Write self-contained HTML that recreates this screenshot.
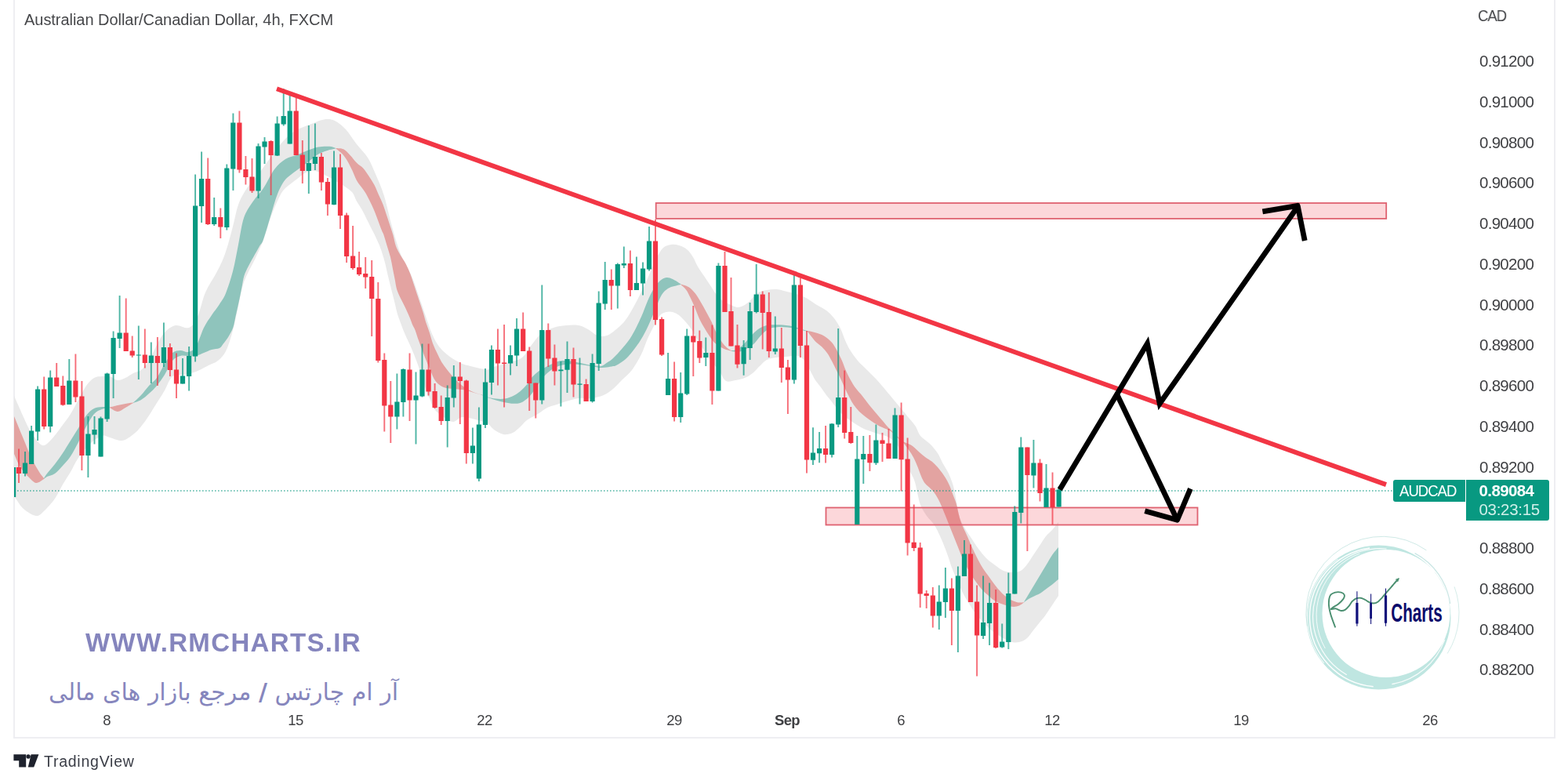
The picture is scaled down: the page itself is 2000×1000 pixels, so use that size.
<!DOCTYPE html><html><head><meta charset="utf-8"><title>AUDCAD chart</title><style>
html,body{margin:0;padding:0;background:#fff}
body{width:2000px;height:1000px;position:relative;overflow:hidden;font-family:"Liberation Sans",sans-serif;color:#404144}
.fr{position:absolute;background:#eeeef2}
.t{position:absolute;white-space:nowrap;line-height:1;will-change:transform}
.pl{left:1887px;font-size:20.5px;letter-spacing:-0.72px;color:#404144}
.dl{font-size:18.5px;letter-spacing:-0.6px;color:#404144;transform:translateX(-50%)}
</style></head><body>
<div class="fr" style="left:16.5px;top:0;width:2px;height:942px"></div>
<div class="fr" style="left:1981.6px;top:0;width:2.2px;height:942px"></div>
<div class="fr" style="left:16.5px;top:940px;width:1967.3px;height:2px"></div>
<svg width="2000" height="1000" viewBox="0 0 2000 1000" style="position:absolute;left:0;top:0">
<defs><clipPath id="cp"><rect x="18" y="0" width="1964" height="940"/></clipPath></defs>
<g clip-path="url(#cp)">
<path d="M17.6 504C19.7 508.7 26.3 524 30 532C33.7 540 36 546 40 552C44 558 49.7 566.7 54 568C58.3 569.3 61.7 564.3 66 560C70.3 555.7 76 547.3 80 542C84 536.7 86.7 533.3 90 528C93.3 522.7 96.7 516 100 510C103.3 504 106.7 496.7 110 492C113.3 487.3 116.7 484 120 482C123.3 480 126.7 480.3 130 480C133.3 479.7 136.7 479.2 140 480C143.3 480.8 146.7 484.7 150 485C153.3 485.3 156.7 483.5 160 482C163.3 480.5 166.7 477.7 170 476C173.3 474.3 176.7 474.7 180 472C183.3 469.3 186.7 465.3 190 460C193.3 454.7 196.7 446 200 440C203.3 434 206 428.2 210 424C214 419.8 218.8 416 224 415C229.2 414 236.3 419.8 241 418C245.7 416.2 248.5 411.5 252 404C255.5 396.5 258 382.3 262 373C266 363.7 271.8 356.2 276 348C280.2 339.8 283.5 333.8 287 324C290.5 314.2 294.2 299.5 297 289C299.8 278.5 301 269.2 304 261C307 252.8 310.3 247 315 240C319.7 233 326.2 226.7 332 219C337.8 211.3 344.7 201 350 194C355.3 187 359.3 181.7 364 177C368.7 172.3 372.8 169 378 166C383.2 163 389.2 161.2 395 159C400.8 156.8 407.7 153.3 413 152.5C418.3 151.7 422.3 151.9 427 154C431.7 156.1 436.3 160 441 165C445.7 170 450.3 178 455 184C459.7 190 465 194.7 469 201C473 207.3 475.5 213.8 479 222C482.5 230.2 486.5 238.8 490 250C493.5 261.2 496.5 276.7 500 289C503.5 301.3 506.8 313.5 511 324C515.2 334.5 521 342.7 525 352C529 361.3 531.5 370 535 380C538.5 390 543.2 404 546 412C548.8 420 549.7 423 552 428C554.3 433 557 438 560 442C563 446 566.7 449.2 570 452C573.3 454.8 576.5 456.9 580 459C583.5 461.1 587.3 463.2 591 464.6C594.7 466 598.2 466.5 602 467.4C605.8 468.3 610.7 469.5 614 470.2C617.3 470.9 619.3 472 622 471.6C624.7 471.2 625.3 469.6 630 468C634.7 466.4 644 464 650 462C656 460 661.3 459.7 666 456C670.7 452.3 674 445 678 440C682 435 685.3 429.7 690 426C694.7 422.3 700.7 419.8 706 418C711.3 416.2 716.7 415.5 722 415C727.3 414.5 733.3 414.2 738 415C742.7 415.8 746 417.8 750 420C754 422.2 758 426.7 762 428C766 429.3 770 429.3 774 428C778 426.7 782 423.3 786 420C790 416.7 794 413.3 798 408C802 402.7 806 395.3 810 388C814 380.7 818.7 371 822 364C825.3 357 827.3 352 830 346C832.7 340 835.3 333 838 328C840.7 323 843 318.7 846 316C849 313.3 852.7 312.5 856 312C859.3 311.5 862.7 312 866 313C869.3 314 873 315.5 876 318C879 320.5 881.7 324.3 884 328C886.3 331.7 887.7 336 890 340C892.3 344 895.3 348 898 352C900.7 356 903.3 360 906 364C908.7 368 911.3 372.7 914 376C916.7 379.3 919.3 382 922 384C924.7 386 926.7 386.7 930 388C933.3 389.3 938 392.3 942 392C946 391.7 950 389 954 386C958 383 962 376.7 966 374C970 371.3 974 370.8 978 370C982 369.2 986.3 368.8 990 369C993.7 369.2 994.3 369.5 1000 371C1005.7 372.5 1017 375 1024 378C1031 381 1037 386 1042 389C1047 392 1050.3 393.2 1054 396C1057.7 398.8 1061 402.2 1064 406C1067 409.8 1069.7 414.3 1072 419C1074.3 423.7 1076 429.5 1078 434C1080 438.5 1081.3 441.7 1084 446C1086.7 450.3 1090.3 455.7 1094 460C1097.7 464.3 1102 468 1106 472C1110 476 1114 479.7 1118 484C1122 488.3 1126.3 493.7 1130 498C1133.7 502.3 1136.7 506 1140 510C1143.3 514 1146.7 518 1150 522C1153.3 526 1157 530.3 1160 534C1163 537.7 1165.7 540.3 1168 544C1170.3 547.7 1171 552.3 1174 556C1177 559.7 1182.3 562.3 1186 566C1189.7 569.7 1193.3 574 1196 578C1198.7 582 1199.7 585.7 1202 590C1204.3 594.3 1207.7 599 1210 604C1212.3 609 1214.3 614 1216 620C1217.7 626 1218.7 633.3 1220 640C1221.3 646.7 1222 654 1224 660C1226 666 1229.3 671.3 1232 676C1234.7 680.7 1237.3 684 1240 688C1242.7 692 1245 696 1248 700C1251 704 1254.7 708.7 1258 712C1261.3 715.3 1264.3 717.3 1268 720C1271.7 722.7 1276 726.3 1280 728C1284 729.7 1288.3 730 1292 730C1295.7 730 1299 729.7 1302 728C1305 726.3 1307.3 723.3 1310 720C1312.7 716.7 1315.3 712 1318 708C1320.7 704 1323.3 700 1326 696C1328.7 692 1331.3 687.3 1334 684C1336.7 680.7 1339.3 679 1342 676C1344.7 673 1348.7 667.7 1350 666L1350 760C1348.7 762 1344.7 768 1342 772C1339.3 776 1336.7 780.3 1334 784C1331.3 787.7 1328.7 790.7 1326 794C1323.3 797.3 1320.7 800.7 1318 804C1315.3 807.3 1313 811.5 1310 814C1307 816.5 1303.7 818.3 1300 819C1296.3 819.7 1293 819.8 1288 818C1283 816.2 1275.3 811.7 1270 808C1264.7 804.3 1260.3 800.3 1256 796C1251.7 791.7 1247.3 786.3 1244 782C1240.7 777.7 1238.7 774.3 1236 770C1233.3 765.7 1230.7 761.3 1228 756C1225.3 750.7 1222.3 743.3 1220 738C1217.7 732.7 1216 729.3 1214 724C1212 718.7 1210.3 712.3 1208 706C1205.7 699.7 1202.7 692 1200 686C1197.3 680 1195 674.7 1192 670C1189 665.3 1185 662.3 1182 658C1179 653.7 1176 649 1174 644C1172 639 1171.3 633.3 1170 628C1168.7 622.7 1168 617.3 1166 612C1164 606.7 1161.3 603 1158 596C1154.7 589 1150 576.3 1146 570C1142 563.7 1138 560.7 1134 558C1130 555.3 1126 555.3 1122 554C1118 552.7 1113.7 551.3 1110 550C1106.3 548.7 1103.3 547.7 1100 546C1096.7 544.3 1094 542.7 1090 540C1086 537.3 1080 533.5 1076 530C1072 526.5 1068.5 521.9 1066 519C1063.5 516.1 1063 514.9 1061 512.4C1059 509.9 1056.3 507.1 1054 504C1051.7 500.9 1049.3 497.2 1047 494C1044.7 490.8 1042.2 488.3 1040 485C1037.8 481.7 1036.3 478.2 1034 474C1031.7 469.8 1028.7 463.3 1026 460C1023.3 456.7 1022 454.8 1018 454C1014 453.2 1006.7 454.7 1002 455C997.3 455.3 994 455.3 990 456C986 456.7 981.3 457.3 978 459C974.7 460.7 973 463.2 970 466C967 468.8 963.3 473.3 960 476C956.7 478.7 953.7 480.5 950 482C946.3 483.5 942 484.3 938 485C934 485.7 929.3 487.8 926 486C922.7 484.2 920.7 477.7 918 474C915.3 470.3 913 468 910 464C907 460 903.3 455 900 450C896.7 445 893 439 890 434C887 429 884.7 424 882 420C879.3 416 876.7 413 874 410C871.3 407 868.7 404 866 402C863.3 400 860.7 398.7 858 398C855.3 397.3 852.7 397.3 850 398C847.3 398.7 844.7 399 842 402C839.3 405 836.7 411 834 416C831.3 421 828.7 426 826 432C823.3 438 821.3 445.3 818 452C814.7 458.7 810 466.7 806 472C802 477.3 798 480 794 484C790 488 786 492.7 782 496C778 499.3 774.7 502 770 504C765.3 506 759.3 507.3 754 508C748.7 508.7 743.3 507.3 738 508C732.7 508.7 726.7 510.7 722 512C717.3 513.3 714 514.7 710 516C706 517.3 702 518 698 520C694 522 690.3 525.3 686 528C681.7 530.7 675.7 533.3 672 536C668.3 538.7 667 541.3 664 544C661 546.7 657.7 550.3 654 552C650.3 553.7 646 554.7 642 554C638 553.3 633.3 550.3 630 548C626.7 545.7 625.3 542 622 540C618.7 538 615.3 537.3 610 536C604.7 534.7 595.3 531.7 590 532C584.7 532.3 582 538 578 538C574 538 570 534.7 566 532C562 529.3 557 526 554 522C551 518 549.5 511.2 548 508C546.5 504.8 546.3 506.7 545 503C543.7 499.3 541.8 491.8 540 486C538.2 480.2 536 473.7 534 468C532 462.3 530 457 528 452C526 447 524 442.5 522 438C520 433.5 517.8 429.3 516 425C514.2 420.7 512.5 416.2 511 412C509.5 407.8 508 404.2 506.8 400C505.6 395.8 504.8 391.8 503.6 386.8C502.4 381.8 500.8 375.6 499.4 370C498 364.4 496.6 359 495.2 353.2C493.8 347.4 492.6 341.1 491 335C489.4 328.9 487.4 322.4 485.4 316.8C483.4 311.2 480.8 306 478.8 301.6C476.8 297.2 475.1 294.1 473.2 290.4C471.3 286.7 469.5 282.9 467.6 279.2C465.7 275.5 464.1 271.7 462 268C459.9 264.3 457.1 260.5 455 256.8C452.9 253.1 451.9 248.7 449.4 245.6C446.9 242.5 443.2 240.3 440 238C436.8 235.7 433.3 234 430 232C426.7 230 424.7 228.3 420 226C415.3 223.7 407 219 402 218C397 217 394 218.2 390 220C386 221.8 382.3 225.7 378 229C373.7 232.3 367.5 236.5 364 240C360.5 243.5 360 244.2 357 250C354 255.8 349.5 265.7 346 275C342.5 284.3 339.5 296.7 336 306C332.5 315.3 329.2 322 325 331C320.8 340 314.7 349.3 311 360C307.3 370.7 305.5 384.2 303 395C300.5 405.8 298.5 416.2 296 425C293.5 433.8 291 442.2 288 448C285 453.8 281.7 457 278 460C274.3 463 270.7 463.7 266 466C261.3 468.3 255.2 472 250 474C244.8 476 240 477 235 478C230 479 224.2 476.7 220 480C215.8 483.3 213.3 492.3 210 498C206.7 503.7 203.3 508.7 200 514C196.7 519.3 193.3 525 190 530C186.7 535 183.3 540 180 544C176.7 548 174 551 170 554C166 557 161 561.3 156 562C151 562.7 144.3 559 140 558C135.7 557 134.2 554.7 130 556C125.8 557.3 120 561.3 115 566C110 570.7 104.2 578 100 584C95.8 590 93.3 596.3 90 602C86.7 607.7 83.3 612.3 80 618C76.7 623.7 74 630.3 70 636C66 641.7 60 648.3 56 652C52 655.7 50.3 658.5 46 658C41.7 657.5 34.3 652.7 30 649C25.7 645.3 22.1 638.5 20 636C17.9 633.5 18 634.3 17.6 634Z" fill="#e9e9e9"/>
<path d="M17.6 530C19.7 535 26.3 551 30 560C33.7 569 36.7 577 40 584C43.3 591 47.3 597.7 50 602C52.7 606.3 55 608.7 56 610L56 611C54.3 611.8 49.3 616.5 46 616C42.7 615.5 39.3 611.3 36 608C32.7 604.7 29.1 601 26 596C22.9 591 19 581 17.6 578Z" fill="#e3a3a1"/>
<path d="M56 610C56.7 609 57.7 607 60 604C62.3 601 66.7 596.3 70 592C73.3 587.7 76.7 583 80 578C83.3 573 86.7 567.3 90 562C93.3 556.7 96.7 551.3 100 546C103.3 540.7 106.7 534.2 110 530C113.3 525.8 116.7 522.8 120 521C123.3 519.2 126.7 519.2 130 519C133.3 518.8 138.3 519.4 140 519.5L140 520C138.3 520.3 133.3 520.7 130 522C126.7 523.3 123.3 524.3 120 528C116.7 531.7 113.3 538 110 544C106.7 550 103.3 557.7 100 564C96.7 570.3 93.3 577 90 582C86.7 587 83.3 590.3 80 594C76.7 597.7 73.3 601.7 70 604C66.7 606.3 62.3 606.8 60 608C57.7 609.2 56.7 610.5 56 611Z" fill="#8fc4bc"/>
<path d="M140 519.5C141.7 519.1 146.7 517.8 150 517C153.3 516.2 156.7 515.6 160 515C163.3 514.4 168.3 513.8 170 513.6L170 514C168.3 515 163.3 518.2 160 520C156.7 521.8 153.3 525 150 525C146.7 525 141.7 520.8 140 520Z" fill="#e3a3a1"/>
<path d="M170 513.6C171.7 512 176.7 507.6 180 504C183.3 500.4 186.7 495.7 190 492C193.3 488.3 196.7 486.7 200 482C203.3 477.3 206.7 469.3 210 464C213.3 458.7 216.7 452.8 220 450C223.3 447.2 226.7 447.2 230 447C233.3 446.8 236.7 449.8 240 449C243.3 448.2 246.7 447.2 250 442C253.3 436.8 256.7 424.7 260 418C263.3 411.3 266.7 407 270 402C273.3 397 277 392.7 280 388C283 383.3 285.2 381 288 374C290.8 367 294.3 356.3 297 346C299.7 335.7 301.7 323.3 304 312C306.3 300.7 308 287 311 278C314 269 317.8 264.3 322 258C326.2 251.7 331.3 247 336 240C340.7 233 345.3 222.2 350 216C354.7 209.8 359.3 206 364 203C368.7 200 373.3 199.8 378 198C382.7 196.2 387.3 193.8 392 192C396.7 190.2 401.3 188.4 406 187.5C410.7 186.6 416.3 186.6 420 186.8C423.7 187 427 188.6 428.4 188.9L428.4 189.5C427.7 189.6 426.5 189.8 424.4 190.3C422.3 190.8 419 191.4 416 192.4C413 193.4 409.7 194.5 406.2 196.6C402.7 198.7 398.7 202.2 395 205C391.3 207.8 387.3 210.8 383.8 213.4C380.3 216 377.3 217.8 374 220.4C370.7 223 367 225.5 364.2 228.8C361.4 232.1 359.3 235.8 357.2 240C355.1 244.2 353.2 249.3 351.6 254C350 258.7 348.8 263.3 347.4 268C346 272.7 344.6 277.3 343.2 282C341.8 286.7 340.4 291.7 339 296C337.6 300.3 336.3 305 335 308C333.7 311 332.8 310.9 331 314C329.2 317.1 326.3 322.4 324 326.6C321.7 330.8 319.1 335 317 339.2C314.9 343.4 312.8 347.4 311.4 351.8C310 356.2 309.5 361.1 308.6 365.8C307.7 370.5 306.7 375.4 305.8 379.8C304.9 384.2 303.9 388.2 303 392.4C302.1 396.6 301.1 400.8 300.2 405C299.3 409.2 298.8 413.6 297.4 417.6C296 421.6 293.9 425.3 291.8 428.8C289.7 432.3 286.8 436.1 284.8 438.6C282.8 441.1 282.5 442.8 280 444C277.5 445.2 273.3 445 270 446C266.7 447 263.3 448.7 260 450C256.7 451.3 253.3 453.3 250 454C246.7 454.7 243.3 454 240 454C236.7 454 233.3 453 230 454C226.7 455 223.3 456 220 460C216.7 464 213.3 472.7 210 478C206.7 483.3 203.3 488 200 492C196.7 496 193.3 499 190 502C186.7 505 183.3 508 180 510C176.7 512 171.7 513.3 170 514Z" fill="#8fc4bc"/>
<path d="M428.4 188.9C430 189.1 435.2 188.8 438.2 190.3C441.2 191.8 443.8 195.1 446.6 198C449.4 200.9 452.2 205 455 207.8C457.8 210.6 460.8 212 463.4 214.8C466 217.6 468.1 221.1 470.4 224.6C472.7 228.1 475.3 231.8 477.4 235.8C479.5 239.8 481.1 244.2 483 248.4C484.9 252.6 487 256.8 488.6 261C490.2 265.2 491.4 269.4 492.8 273.6C494.2 277.8 495.6 281.9 497 286.2C498.4 290.5 500 294.9 501.3 299.5C502.6 304.1 503.4 309.7 505 314C506.6 318.3 508.5 321.5 510.6 325.2C512.7 328.9 515.5 332.4 517.6 336.4C519.7 340.4 521.6 344.8 523.2 349C524.8 353.2 526 357.4 527.4 361.6C528.8 365.8 530.2 370 531.6 374.2C533 378.4 534.4 382.6 535.8 386.8C537.2 391 538.8 395.4 540 399.4C541.2 403.4 541.9 406.9 543.2 411C544.5 415.1 546.3 419.5 547.8 424C549.3 428.5 550.4 433.6 552 438C553.6 442.4 555.7 446.6 557.6 450.6C559.5 454.6 561.1 458.3 563.2 461.8C565.3 465.3 567.9 468.6 570.2 471.6C572.5 474.6 574.7 477.3 577.2 480C579.7 482.7 582.2 485.5 585 488C587.8 490.5 591.1 493.1 594 495C596.9 496.9 599.6 498.2 602.4 499.4C605.2 500.6 608.9 501.8 610.8 502.4C612.7 503 613.5 502.9 614 503L614 503.4C612.5 503 608.3 501.9 605 501C601.7 500.1 597.5 498.6 594 497.8C590.5 497.1 587.5 496.9 584 496.5C580.5 496.1 576 496 573 495.6C570 495.2 568.3 495 566 494C563.7 493 561.1 491.7 559 489.8C556.9 487.9 555.2 486.1 553.4 482.8C551.6 479.5 549.9 474.4 548 470C546.1 465.6 543.9 460.4 542.2 456.2C540.5 452 539.4 448.7 538 445C536.6 441.3 535.2 437.8 533.8 433.8C532.4 429.8 530.8 424.3 529.6 421.2C528.4 418.1 527.6 417.5 526.5 415C525.4 412.5 524.7 409.9 523.2 406.4C521.7 402.9 519.5 397.8 517.6 393.8C515.7 389.8 513.9 386.6 512 382.6C510.1 378.6 507.8 374.4 506.4 370C505 365.6 504.5 360.7 503.6 356C502.7 351.3 501.7 346.7 500.8 342C499.9 337.3 499.2 332.7 498 328C496.8 323.3 495.2 318.7 493.8 314C492.4 309.3 490.7 303.2 489.6 300C488.5 296.8 488.3 297.4 487.2 294.6C486.1 291.8 484.4 287.1 483 283.4C481.6 279.7 480.4 276.2 478.8 272.2C477.2 268.2 475.1 263.6 473.2 259.6C471.3 255.6 469.5 251.7 467.6 248.4C465.7 245.1 464.1 243 462 240C459.9 237 457.1 233.9 455 230.2C452.9 226.5 451.3 221.6 449.4 217.6C447.5 213.6 445.9 209.9 443.8 206.4C441.7 202.9 439.4 199.4 436.8 196.6C434.2 193.8 429.8 190.7 428.4 189.5Z" fill="#e3a3a1"/>
<path d="M614 503C615.3 503.6 618.9 505.5 622 506.4C625.1 507.3 629 508.2 632.6 508.6C636.2 509 640.1 509.2 643.8 508.6C647.5 508 651.7 506.4 655 504.8C658.3 503.2 660.6 501.5 663.4 499.2C666.2 496.9 669.2 493.8 671.8 490.8C674.4 487.8 676.3 483.9 678.8 481C681.3 478.1 684.2 475.6 687 473.5C689.8 471.4 692.8 469.9 695.6 468.4C698.4 466.8 701.2 465.5 704 464.2C706.8 462.9 709.6 461.4 712.4 460.7C715.2 460 718 460 720.8 460C723.6 460 726.2 460.2 729.2 460.7C732.2 461.2 735.7 462.1 739 462.8C742.3 463.5 745.6 464.3 748.8 464.9C752 465.5 755 465.8 758 466.2C761 466.6 764.3 467.6 767 467C769.7 466.4 771.5 464.5 774 462.8C776.5 461.1 778.7 460.1 782 457C785.3 453.9 790 448.8 794 444C798 439.2 802 434.7 806 428C810 421.3 814.7 411.3 818 404C821.3 396.7 823.3 390 826 384C828.7 378 831.3 372.3 834 368C836.7 363.7 839.3 360.3 842 358C844.7 355.7 847.3 354.3 850 354C852.7 353.7 854.9 354.6 858 356C861.1 357.4 866.7 361.3 868.4 362.4L868.4 363C867 363.3 862.7 364.2 860 365C857.3 365.8 854.7 366.2 852 368C849.3 369.8 846.7 371.7 844 376C841.3 380.3 838.7 387.8 836 394C833.3 400.2 830.7 407.2 828 413C825.3 418.8 823 423.8 820 429C817 434.2 813.7 439.2 810 444C806.3 448.8 802 454.3 798 458C794 461.7 788.7 464.5 786 466C783.3 467.5 784 466.6 782 467C780 467.4 776.5 468.3 774 468.6C771.5 468.9 769.7 469.1 767 469C764.3 468.9 761 468.2 758 467.8C755 467.4 752 466.8 748.8 466.3C745.6 465.8 742.3 465.4 739 465C735.7 464.6 732.2 464.2 729.2 464.2C726.2 464.2 723.6 464.5 720.8 465C718 465.5 715.2 466 712.4 467C709.6 468 706.8 469.3 704 471.2C701.2 473.1 698.3 475.4 695.6 478.2C692.9 481 690.6 484.5 688 488C685.4 491.5 682.7 496.1 680.2 499.4C677.7 502.7 675.8 505.5 673.2 507.8C670.6 510.1 667.8 512.2 664.8 513.4C661.8 514.6 658.5 514.8 655 514.8C651.5 514.8 647.5 513.9 643.8 513.2C640.1 512.5 636.2 511.4 632.6 510.4C629 509.4 625.1 508.2 622 507C618.9 505.8 615.3 504 614 503.4Z" fill="#8fc4bc"/>
<path d="M868.4 362.4C870 363 875.2 364.1 878.2 366C881.2 367.9 884 370.8 886.6 374C889.2 377.2 891.3 381.1 893.6 385C895.9 388.9 898.3 393.2 900.6 397.5C902.9 401.8 905.7 406.7 907.6 410.5C909.5 414.3 910.2 417.2 911.8 420.5C913.4 423.8 915.4 427.2 917 430C918.6 432.8 919.9 435.3 921.6 437.5C923.3 439.7 925.3 441.8 927.2 443.4C929.1 445 931.9 446.5 932.8 447.1L932.8 447.8C932.1 447.6 930.5 447.2 928.6 446.6C926.7 446 924.4 445.5 921.6 444C918.8 442.5 914.4 439.8 911.8 437.5C909.2 435.2 908.3 433.5 906.2 430.5C904.1 427.5 901.5 423.4 899.2 419.5C896.9 415.6 894.3 411.4 892.2 407C890.1 402.6 888.5 397.4 886.6 393C884.7 388.6 882.9 384.3 881 380.5C879.1 376.7 877.5 372.9 875.4 370C873.3 367.1 869.6 364.2 868.4 363Z" fill="#e3a3a1"/>
<path d="M932.8 447.1C933.7 447 936.1 447.2 938.4 446.2C940.7 445.1 944 443.2 946.8 440.8C949.6 438.4 952.4 434.8 955 432C957.6 429.2 959.8 426.3 962.2 424C964.6 421.7 966.6 419.9 969.2 418.4C971.8 416.9 974.8 415.6 977.6 414.9C980.4 414.2 983.2 414.3 986 414.2C988.8 414.1 991.6 414.1 994.4 414.2C997.2 414.3 1000 414.5 1002.8 414.9C1005.6 415.2 1008.6 415.7 1011.2 416.3C1013.8 416.9 1015.1 417.4 1018.2 418.4C1021.3 419.3 1028 421.4 1030 422L1030 423C1028 422.5 1021.8 420.7 1018.2 419.8C1014.6 418.9 1011.4 418.3 1008.4 417.9C1005.4 417.5 1002.8 417.3 1000 417.2C997.2 417.1 994.4 417 991.6 417.2C988.8 417.4 985.8 417.7 983.2 418.6C980.6 419.5 978.5 420.8 976.2 422.6C973.9 424.4 971.5 427 969.2 429.6C966.9 432.2 964.6 435.8 962.2 438C959.8 440.2 957.6 441.4 955 443C952.4 444.6 949.6 446.9 946.8 447.8C944 448.7 940.7 448.6 938.4 448.6C936.1 448.6 933.7 447.9 932.8 447.8Z" fill="#8fc4bc"/>
<path d="M1030 422C1031.7 422.4 1036.5 423.1 1040 424.2C1043.5 425.3 1047.5 426.3 1051 428.4C1054.5 430.5 1058.2 433.5 1061 436.8C1063.8 440.1 1065.9 444.3 1068 448C1070.1 451.7 1071.7 455 1073.6 459.2C1075.5 463.4 1077.3 469 1079.2 473.2C1081.1 477.4 1082.7 480.7 1084.8 484.4C1086.9 488.1 1089.2 492.1 1091.8 495.6C1094.4 499.1 1097.4 501.9 1100.2 505.4C1103 508.9 1105.8 513.1 1108.6 516.6C1111.4 520.1 1114.2 523.1 1117 526.4C1119.8 529.7 1122.8 533.2 1125.4 536.2C1128 539.2 1130.3 542.3 1132.4 544.6C1134.5 546.9 1135.9 547.9 1138 550C1140.1 552.1 1142.6 554.7 1145 557C1147.4 559.3 1149.5 561.8 1152.4 563.6C1155.3 565.4 1158.9 565.7 1162.2 567.8C1165.5 569.9 1169 573.6 1172 576.2C1175 578.8 1177.6 581.1 1180.4 583.2C1183.2 585.3 1186.2 586.7 1188.8 588.8C1191.4 590.9 1193.7 593.5 1195.8 595.8C1197.9 598.1 1199.5 600.2 1201.4 602.8C1203.3 605.4 1205.4 608.4 1207 611.2C1208.6 614 1209.8 616.3 1211.2 619.6C1212.6 622.9 1214 627.1 1215.4 630.8C1216.8 634.5 1218.4 638 1219.6 642C1220.8 646 1221.6 651 1222.6 655C1223.6 659 1224.3 662.2 1225.8 666.2C1227.3 670.2 1229.5 674.6 1231.4 678.8C1233.3 683 1235.1 687.2 1237 691.4C1238.9 695.6 1240.7 700 1242.6 704C1244.5 708 1246.3 711.7 1248.2 715.2C1250.1 718.7 1251.7 721.7 1253.8 725C1255.9 728.3 1258.5 731.5 1260.8 734.8C1263.1 738.1 1265.5 741.6 1267.8 744.6C1270.1 747.6 1272.5 750.4 1274.8 753C1277.1 755.6 1279.2 757.9 1281.8 760C1284.4 762.1 1287.4 764.2 1290.2 765.6C1293 767 1296 768 1298.6 768.4C1301.2 768.8 1304.8 768.2 1306 768.2L1306 768.6C1305 769.3 1302.2 771.7 1300 772.6C1297.8 773.5 1295.6 774 1293 774C1290.4 774 1287.4 773.3 1284.6 772.6C1281.8 771.9 1279 771 1276.2 769.8C1273.4 768.6 1270.6 767.5 1267.8 765.6C1265 763.7 1262.2 761.2 1259.4 758.6C1256.6 756 1253.8 753.5 1251 750.2C1248.2 746.9 1245.4 743.2 1242.6 739C1239.8 734.8 1236.6 729.7 1234 725C1231.4 720.3 1229.3 715.7 1227.2 711C1225.1 706.3 1223.5 701.7 1221.6 697C1219.7 692.3 1217.9 687.7 1216 683C1214.1 678.3 1212.3 673.7 1210.4 669C1208.5 664.3 1206.5 659.3 1204.8 655C1203.1 650.7 1201.5 646.7 1200 643.4C1198.5 640.1 1197.4 637.8 1195.8 635C1194.2 632.2 1192.1 628.9 1190.2 626.6C1188.3 624.3 1186.5 622.9 1184.6 621C1182.7 619.1 1180.6 617.7 1179 615.4C1177.4 613.1 1176.2 610.3 1174.8 607C1173.4 603.7 1172 599.3 1170.6 595.8C1169.2 592.3 1168 589.3 1166.4 586C1164.8 582.7 1163.1 579.7 1160.8 576.2C1158.5 572.7 1155 568 1152.4 565C1149.8 562 1147.4 560.8 1145 558.5C1142.6 556.2 1140.1 553.2 1138 551.5C1135.9 549.8 1134.7 549.2 1132.4 548.1C1130.1 547 1127 546.1 1124 544.6C1121 543.1 1117.5 541.1 1114.2 539C1110.9 536.9 1107.4 534.3 1104.4 532C1101.4 529.7 1098.6 527.6 1096 525C1093.4 522.4 1091.1 519.6 1089 516.6C1086.9 513.6 1085.3 510.3 1083.4 506.8C1081.5 503.3 1079.7 499.6 1077.8 495.6C1075.9 491.6 1074.1 487 1072.2 483C1070.3 479 1068.5 475.5 1066.6 471.8C1064.7 468.1 1062.9 464.1 1061 460.6C1059.1 457.1 1057.5 453.8 1055.4 450.8C1053.3 447.8 1051 445 1048.4 442.4C1045.8 439.8 1042.4 437.8 1040 435.4C1037.6 433 1035.7 430.1 1034 428C1032.3 425.9 1030.7 423.8 1030 423Z" fill="#e3a3a1"/>
<path d="M1306 768C1307 766.3 1310 761.3 1312 758C1314 754.7 1316 751.3 1318 748C1320 744.7 1322 741.3 1324 738C1326 734.7 1328 731.3 1330 728C1332 724.7 1334 721.3 1336 718C1338 714.7 1339.7 711.3 1342 708C1344.3 704.7 1348.7 699.7 1350 698L1350 739C1349 739.8 1346.3 742.2 1344 744C1341.7 745.8 1338.7 748 1336 750C1333.3 752 1330.7 754.3 1328 756C1325.3 757.7 1322.7 758.7 1320 760C1317.3 761.3 1314.3 762.6 1312 764C1309.7 765.4 1307 767.7 1306 768.4Z" fill="#8fc4bc"/>
<line x1="18" y1="626" x2="1777" y2="626" stroke="#089981" stroke-width="1.4" stroke-dasharray="1.6 2.4" opacity="0.7"/>
<rect x="836.7" y="259" width="931.5" height="19.9" fill="#f23645" fill-opacity="0.2" stroke="#df6270" stroke-width="1.8"/>
<rect x="1053.5" y="647.5" width="474" height="22" fill="#f23645" fill-opacity="0.2" stroke="#df6270" stroke-width="1.8"/>
<path d="M32 576V607.6M40.1 543V592M48.1 492.4V562M64.2 472.6V551.6M88.3 458V516M112.4 531V609M120.5 531V566.4M128.5 531.4V582.4M136.6 475.4V538M144.6 422.4V508M152.6 377V444M176.8 415.6V484M192.8 436.6V489M208.9 411.6V468M233 457V489.6M241.1 442V498.6M249.1 222.6V461.4M257.1 193.4V284M273.2 252V288M289.3 209.6V293.6M297.4 144.4V243M329.5 183V253M337.5 175V209M353.6 148.6V199M361.7 113V160.6M369.7 121V183.6M393.8 160V247M401.9 157.4V217M426 192.4V261.6M506.4 476.6V547.6M514.4 470V531.6M530.5 474.4V566.4M538.5 438.6V506.4M570.7 491.4V570.4M578.8 466V519.4M602.9 545.6V591.6M610.9 519.4V614M619 470V546M627 440.6V503.6M651.1 440.6V478.4M659.1 406V467M691.3 363.6V515.6M715.4 461V518.4M723.5 435.6V501M739.5 456.6V515.6M755.6 451.4V513.4M763.7 371.6V473M771.7 334V395M787.8 335.6V393.6M795.8 314.4V342M811.9 327.6V370M820 334.4V376.6M828 289V345.6M852.1 450V504M868.2 475V539M876.2 419.6V504M900.3 430.4V467M916.4 335.6V498.6M948.6 434V478.8M956.6 386V459M964.7 337V399.6M988.8 403.6V452M1012.9 348V489.6M1037 545.3V593M1045.1 551V590.2M1061.1 540V583.6M1069.2 419V545M1093.3 556V669M1101.3 556V617M1117.4 541.6V593M1141.5 520.4V585M1197.8 746.4V803M1205.9 724V788M1221.9 722.4V832M1230 689V735M1254.1 734.4V815M1262.1 743.6V823M1278.2 795.6V826.6M1286.3 730.4V828M1294.3 645.6V757.6M1302.3 557.6V667.6M1318.4 561V622.4M1334.5 592V647M1350.6 620V646.5" stroke="#089981" stroke-width="1.9" stroke-opacity="0.72" fill="none"/>
<path d="M24 572.4V616M56.2 480.6V547.6M72.2 463V493M80.3 479.4V517.4M96.4 451.4V513M104.4 486V600M160.7 380.6V448M168.7 428.6V456M184.8 419.6V469.6M200.9 430V492M216.9 438V480M225 450.6V508M265.2 201.6V287M281.3 265.6V304M305.4 141.4V220.6M313.4 199V235.6M321.5 202V246M345.6 179V249M377.8 125V198M385.8 179V234M409.9 195V243M417.9 227V275M434 196.4V292M442.1 271.6V335M450.1 288V344M458.1 321V352M466.2 328V368M474.2 332V429M482.3 360V462.4M490.3 450.4V550.4M498.3 486V565M522.5 450.4V537M546.6 438.6V504.4M554.6 489V521M562.7 504.6V542M586.8 462V541M594.8 484.6V591.6M635 419.4V491.6M643.1 414V519.4M667.2 398.4V448M675.2 442.4V524M683.3 488.4V533.4M699.3 412.4V468M707.4 439.4V491.6M731.5 443.6V506.4M747.6 483.6V512M779.8 343.6V395M803.9 319.6V378M836 280V414.6M844.1 404.4V454M860.1 461.6V537.6M884.3 390V480M892.3 421.6V463M908.4 414.4V516M924.5 321V398M932.5 354V441.6M940.5 414V469.4M972.7 371.4V445.6M980.8 373V456M996.8 418V488M1004.9 459V528M1020.9 354.4V456M1029 422V603.6M1053.1 543V590.4M1077.2 472.4V559.6M1085.3 519V566M1109.4 555V601M1125.5 552V589M1133.5 547V585M1149.6 513.6V626.4M1157.6 558.6V708.4M1165.7 643.6V703M1173.7 692V775M1181.7 753V776M1189.8 749V800.4M1213.9 737.4V823M1238 694.4V768M1246.1 746.4V862.4M1270.2 752V827M1310.4 570.4V703M1326.5 585.6V639.4M1342.5 602.6V669" stroke="#f23645" stroke-width="1.9" stroke-opacity="0.72" fill="none"/>
<path d="M28.9 590.6h6.2v13.4h-6.2zM37 549.4h6.2v42.6h-6.2zM45 496.4h6.2v54h-6.2zM61.1 481.6h6.2v62.4h-6.2zM85.2 485.6h6.2v30.4h-6.2zM109.3 553.4h6.2v27.6h-6.2zM117.4 548h6.2v6.6h-6.2zM125.4 533.4h6.2v49h-6.2zM133.5 476.4h6.2v58.2h-6.2zM141.5 431h6.2v46h-6.2zM149.5 424.4h6.2v7.6h-6.2zM173.7 452.4h6.2v1.2h-6.2zM189.7 453.6h6.2v9.4h-6.2zM205.8 443h6.2v20h-6.2zM229.9 479.4h6.2v10.2h-6.2zM238 454h6.2v26h-6.2zM246 262.4h6.2v192.2h-6.2zM254 228h6.2v35h-6.2zM270.1 277h6.2v9h-6.2zM286.2 214.6h6.2v75.4h-6.2zM294.2 156.4h6.2v59.2h-6.2zM326.4 186.6h6.2v57h-6.2zM334.4 180.4h6.2v7h-6.2zM350.5 157.6h6.2v40.8h-6.2zM358.6 148h6.2v10.6h-6.2zM366.6 141.6h6.2v42h-6.2zM390.7 208h6.2v10h-6.2zM398.8 200h6.2v9h-6.2zM422.9 213.4h6.2v47.6h-6.2zM503.3 512.4h6.2v19.2h-6.2zM511.3 471h6.2v42h-6.2zM527.4 504.6h6.2v5.8h-6.2zM535.4 471.4h6.2v34.2h-6.2zM567.6 507h6.2v30h-6.2zM575.6 480.4h6.2v27.2h-6.2zM599.8 568.4h6.2v9.6h-6.2zM607.8 541.6h6.2v68.8h-6.2zM615.9 487.4h6.2v54.6h-6.2zM623.9 446h6.2v42h-6.2zM648 453h6.2v10.6h-6.2zM656 419.4h6.2v34.2h-6.2zM688.2 421h6.2v89.4h-6.2zM712.3 471.6h6.2v1.6h-6.2zM720.4 458h6.2v13.8h-6.2zM736.4 489.6h6.2v1.2h-6.2zM752.5 463h6.2v49h-6.2zM760.6 386.4h6.2v77.6h-6.2zM768.6 357h6.2v30.4h-6.2zM784.7 337h6.2v27.6h-6.2zM792.7 336h6.2v2.4h-6.2zM808.8 361h6.2v9h-6.2zM816.9 342.4h6.2v19.2h-6.2zM824.9 307.6h6.2v36h-6.2zM849 483h6.2v21h-6.2zM865.1 501.6h6.2v30.4h-6.2zM873.1 428.4h6.2v74h-6.2zM897.2 450h6.2v6h-6.2zM913.3 339h6.2v159.6h-6.2zM945.5 443h6.2v21.2h-6.2zM953.5 397h6.2v47h-6.2zM961.6 375.6h6.2v22.4h-6.2zM985.7 444.6h6.2v3.8h-6.2zM1009.8 363.6h6.2v121h-6.2zM1033.9 577.6h6.2v9.2h-6.2zM1042 572h6.2v6.2h-6.2zM1058 540.4h6.2v39.6h-6.2zM1066.1 507h6.2v34.4h-6.2zM1090.2 585.6h6.2v83.4h-6.2zM1098.2 579h6.2v7h-6.2zM1114.3 561.5h6.2v28.9h-6.2zM1138.5 529.6h6.2v55.4h-6.2zM1194.7 767.6h6.2v18h-6.2zM1202.8 750.4h6.2v17.6h-6.2zM1218.8 734.4h6.2v44.6h-6.2zM1226.9 706.4h6.2v28.6h-6.2zM1251 794h6.2v17h-6.2zM1259 769h6.2v26h-6.2zM1275.1 818.4h6.2v7.2h-6.2zM1283.2 757h6.2v62h-6.2zM1291.2 653h6.2v104.6h-6.2zM1299.2 570.4h6.2v83.6h-6.2zM1315.3 590.6h6.2v15.8h-6.2zM1331.4 622.4h6.2v24.6h-6.2zM1347.5 624.5h6.2v22h-6.2zM18 596h2.2v38h-2.2z" fill="#089981"/>
<path d="M20.9 596h6.2v8h-6.2zM53.1 496.6h6.2v47.4h-6.2zM69.1 481.6h6.2v11.4h-6.2zM77.2 492h6.2v24.4h-6.2zM93.3 485.6h6.2v21h-6.2zM101.3 505.6h6.2v75.4h-6.2zM157.6 424.4h6.2v23.6h-6.2zM165.6 447.4h6.2v6.2h-6.2zM181.7 452.6h6.2v10.4h-6.2zM197.8 454h6.2v9h-6.2zM213.8 443h6.2v29h-6.2zM221.9 471.4h6.2v18.2h-6.2zM262.1 228h6.2v58h-6.2zM278.2 277h6.2v12.5h-6.2zM302.3 156.4h6.2v60.2h-6.2zM310.3 216h6.2v10h-6.2zM318.4 225.4h6.2v18.2h-6.2zM342.5 180h6.2v18h-6.2zM374.6 141.6h6.2v56.4h-6.2zM382.7 197.6h6.2v20.4h-6.2zM406.8 200h6.2v32.6h-6.2zM414.8 232h6.2v28.6h-6.2zM430.9 213.4h6.2v61.6h-6.2zM439 274.4h6.2v52.6h-6.2zM447 326.4h6.2v15.6h-6.2zM455 341h6.2v9h-6.2zM463.1 349h6.2v4.6h-6.2zM471.1 353h6.2v28h-6.2zM479.2 381h6.2v79h-6.2zM487.2 459h6.2v58.4h-6.2zM495.2 516.4h6.2v15.2h-6.2zM519.4 471.4h6.2v39h-6.2zM543.5 471.4h6.2v28.2h-6.2zM551.5 499h6.2v21h-6.2zM559.6 519h6.2v18h-6.2zM583.7 480.4h6.2v5.6h-6.2zM591.7 485.6h6.2v92.4h-6.2zM631.9 446h6.2v17.6h-6.2zM640 462.6h6.2v1.4h-6.2zM664.1 419.4h6.2v28.6h-6.2zM672.1 447.6h6.2v41.4h-6.2zM680.2 488.4h6.2v22h-6.2zM696.2 421h6.2v36.6h-6.2zM704.3 456.6h6.2v16.8h-6.2zM728.4 458h6.2v32.4h-6.2zM744.5 490h6.2v22h-6.2zM776.6 357h6.2v7.6h-6.2zM800.8 336h6.2v34h-6.2zM832.9 307.6h6.2v100.4h-6.2zM841 407h6.2v45.4h-6.2zM857 483h6.2v49h-6.2zM881.2 428.4h6.2v8h-6.2zM889.2 435h6.2v21.6h-6.2zM905.3 450h6.2v48.6h-6.2zM921.4 339h6.2v59h-6.2zM929.4 397h6.2v44.6h-6.2zM937.4 440.6h6.2v24.2h-6.2zM969.6 375.6h6.2v23.4h-6.2zM977.6 398h6.2v50h-6.2zM993.7 444.4h6.2v24.6h-6.2zM1001.8 468.4h6.2v16.2h-6.2zM1017.8 363.6h6.2v77.4h-6.2zM1025.9 440.6h6.2v145.8h-6.2zM1050 572h6.2v8h-6.2zM1074.1 507h6.2v45h-6.2zM1082.2 551h6.2v14h-6.2zM1106.3 579h6.2v11.2h-6.2zM1122.4 561.5h6.2v4.5h-6.2zM1130.4 565.6h6.2v19.4h-6.2zM1146.5 529.6h6.2v56.6h-6.2zM1154.5 585.6h6.2v107h-6.2zM1162.6 691.8h6.2v7.2h-6.2zM1170.6 698.4h6.2v59.2h-6.2zM1178.6 757h6.2v3h-6.2zM1186.7 759.6h6.2v26h-6.2zM1210.8 750.4h6.2v28.6h-6.2zM1234.9 706.4h6.2v61.6h-6.2zM1243 767.6h6.2v43h-6.2zM1267.1 769h6.2v57h-6.2zM1307.3 570.4h6.2v35.6h-6.2zM1323.4 590.6h6.2v38.4h-6.2zM1339.4 622.4h6.2v24.6h-6.2z" fill="#f23645"/>
<line x1="353" y1="113.2" x2="1768" y2="618.1" stroke="#f23645" stroke-width="5.9"/>
<path d="M1351.7 624.6 L1463.4 438.3 L1479.2 514.8 L1656.3 262" fill="none" stroke="#000" stroke-width="6.8" stroke-linejoin="miter" stroke-miterlimit="10"/>
<path d="M1610.4 269.8 L1655.2 262.3 L1664.2 307" fill="none" stroke="#000" stroke-width="6.8" stroke-linejoin="round"/>
<path d="M1424.7 503 L1501.6 663.3" fill="none" stroke="#000" stroke-width="6.8"/>
<path d="M1460.3 651.8 L1501.6 663.3 L1518.4 623.4" fill="none" stroke="#000" stroke-width="6.8" stroke-linejoin="round"/>
</g>
<text x="285" y="892.5" text-anchor="middle" direction="rtl" font-size="30" fill="#8686bd" style="font-family:'DejaVu Sans','Liberation Sans',sans-serif">آر ام چارتس <tspan font-weight="bold">/</tspan> مرجع بازار های مالی</text>
<text x="1774.2" y="792.7" font-size="33" font-weight="bold" fill="#0b0b6b" textLength="65.5" lengthAdjust="spacingAndGlyphs" style="font-family:'Liberation Sans',sans-serif">Charts</text>
<path fill-rule="evenodd" fill="#bfe6e1" d="M1666.5 787.5a92 92 0 1 0 184 0a92 92 0 1 0 -184 0z M1686.5 782.5a81.5 81.5 0 1 0 163 0a81.5 81.5 0 1 0 -163 0z"/><g fill="none" stroke="#fff"><path d="M1751.7 875.7A89 89 0 0 1 1747.1 698.9" stroke-width="1.5" opacity="0.95"/><path d="M1717.8 860.7A86.3 86.3 0 0 1 1768.5 700" stroke-width="1.2" opacity="0.9"/><path d="M1690.3 827A84 84 0 0 1 1734.3 706.1" stroke-width="1.0" opacity="0.85"/><path d="M1688.9 845.9A90.8 90.8 0 0 1 1706.4 713.1" stroke-width="1.1" opacity="0.8"/><path d="M1842.7 816.1A88 88 0 0 1 1775.3 872.7" stroke-width="1.3" opacity="0.85"/></g><g fill="none" stroke="#b4dcd8"><path d="M1667.3 798.7A97.6 97.6 0 0 1 1819.4 701.9" stroke-width="0.8" opacity="0.8"/><path d="M1855.1 748.4A97.6 97.6 0 0 1 1846.2 833.5" stroke-width="0.8" opacity="0.7"/><path d="M1804.6 705.6A86.5 86.5 0 0 1 1849.7 770" stroke-width="1.2" opacity="0.7"/></g><path d="M1703 799.7C1702 796.9 1698.4 787.9 1697.1 783C1695.8 778.1 1695 774.3 1694.9 770.4C1694.8 766.5 1695.3 762.1 1696.7 759.6C1698.1 757.1 1701.1 756.3 1703.4 755.6C1705.7 754.9 1708.7 755.1 1710.6 755.6C1712.5 756.1 1714.2 757.3 1714.7 758.7C1715.2 760.1 1714.6 762.2 1713.3 764.1C1712 766 1709.2 768.6 1707 770.4C1704.8 772.2 1701.3 773.8 1699.8 774.9C1698.3 776 1697.4 777 1698 777.2C1698.6 777.4 1701.3 776 1703.4 776.3C1705.5 776.6 1708.5 778.8 1710.6 779C1712.7 779.2 1714.3 778.6 1716 777.6C1717.7 776.6 1719 774.9 1720.5 773.1C1722 771.3 1723.3 768.4 1725 766.8C1726.7 765.1 1728.6 763.9 1730.4 763.2C1732.2 762.5 1734 762.5 1735.8 762.8C1737.6 763.1 1739.4 764.1 1741.2 765C1743 765.9 1744.8 767.5 1746.6 768.2C1748.4 769 1750.2 769.6 1752 769.5C1753.8 769.4 1755.6 768.9 1757.4 767.7C1759.2 766.5 1761 764.2 1762.8 762.3C1764.6 760.3 1766.2 758.2 1768.2 756C1770.2 753.8 1772.5 751 1774.5 748.8C1776.5 746.5 1778.4 744.2 1779.9 742.5C1781.4 740.8 1782.9 739.2 1783.5 738.5" fill="none" stroke="#4a8f70" stroke-width="1.9" stroke-linecap="round" stroke-linejoin="round"/><path d="M1780.3 739.3L1783.8 738.2L1782.6 741.9" fill="none" stroke="#4a8f70" stroke-width="1.4"/><path d="M1730.9 754.2V798.8M1748.6 757.4V796.1M1767.5 750.6V798.8" stroke="#1a1a80" stroke-width="1.1" fill="none"/><path d="M1729.3 769.1h3.2v26.5h-3.2zM1747.2 769.1h2.8v19.8h-2.8zM1765.9 759.6h3.2v35.1h-3.2z" fill="#10107a"/>
<path d="M17.4 962.2h15.8v16.2h-9v-8.2h-6.8z M39.6 962.2h9.8l-6.2 16.2h-7.4z" fill="#1e222d"/><circle cx="36.1" cy="965" r="2.7" fill="#1e222d"/>
</svg>
<div class="t" style="left:31px;top:15px;font-size:20px;letter-spacing:-0.04px;color:#46474a">Australian Dollar/Canadian Dollar, 4h, FXCM</div>
<div class="t" style="left:1885px;top:10.5px;font-size:19.5px;letter-spacing:-1px;color:#46474a;transform:scaleX(0.95);transform-origin:0 0">CAD</div>
<div class="t pl" style="top:68.2px">0.91200</div>
<div class="t pl" style="top:119.9px">0.91000</div>
<div class="t pl" style="top:171.7px">0.90800</div>
<div class="t pl" style="top:223.4px">0.90600</div>
<div class="t pl" style="top:275.1px">0.90400</div>
<div class="t pl" style="top:326.9px">0.90200</div>
<div class="t pl" style="top:378.6px">0.90000</div>
<div class="t pl" style="top:430.3px">0.89800</div>
<div class="t pl" style="top:482.1px">0.89600</div>
<div class="t pl" style="top:533.8px">0.89400</div>
<div class="t pl" style="top:585.5px">0.89200</div>
<div class="t pl" style="top:637.3px">0.89000</div>
<div class="t pl" style="top:689.0px">0.88800</div>
<div class="t pl" style="top:740.7px">0.88600</div>
<div class="t pl" style="top:792.5px">0.88400</div>
<div class="t pl" style="top:844.2px">0.88200</div>
<div class="t dl" style="left:136.0px;top:910px">8</div>
<div class="t dl" style="left:377.2px;top:910px">15</div>
<div class="t dl" style="left:618.4px;top:910px">22</div>
<div class="t dl" style="left:859.6px;top:910px">29</div>
<div class="t dl" style="left:1004.3px;top:910px;font-weight:bold">Sep</div>
<div class="t dl" style="left:1149.0px;top:910px">6</div>
<div class="t dl" style="left:1342.0px;top:910px">12</div>
<div class="t dl" style="left:1583.2px;top:910px">19</div>
<div class="t dl" style="left:1824.4px;top:910px">26</div>
<div class="t" style="left:1776.5px;top:612px;width:92px;height:27.5px;background:#089981;border-radius:3px 0 0 3px;color:#fff;font-size:20.5px;line-height:28px"><span style="position:absolute;left:7.5px;top:0;letter-spacing:-1.1px;transform:scaleX(0.905);transform-origin:0 0">AUDCAD</span></div>
<div class="t" style="left:1869.5px;top:612px;width:105.5px;height:51.5px;background:#089981;border-radius:0 3px 3px 0;color:#fff;font-size:20.5px;letter-spacing:-0.85px"><div style="position:absolute;left:16.5px;top:4px;font-weight:bold;letter-spacing:-0.6px">0.89084</div><div style="position:absolute;left:16.5px;top:28px;color:#d0efe9;letter-spacing:-0.3px">03:23:15</div></div>
<div class="t" style="left:108.5px;top:803px;font-size:33px;font-weight:bold;color:#8585bd;letter-spacing:1.35px">WWW.RMCHARTS.IR</div>
<div class="t" style="left:55.5px;top:962px;font-size:19.5px;color:#3a3d46;letter-spacing:0.75px">TradingView</div>
</body></html>
